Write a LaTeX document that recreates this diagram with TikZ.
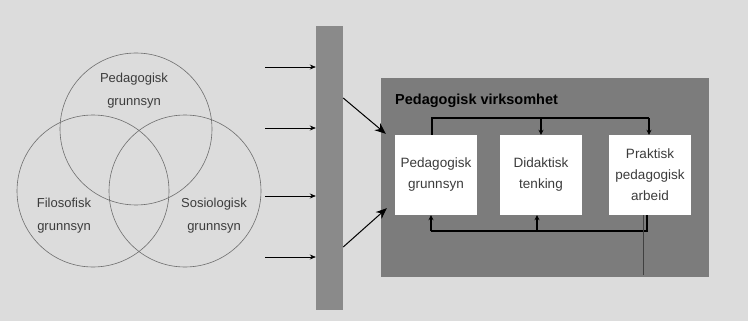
\documentclass[tikz,border=0pt]{standalone}
\usepackage{fontspec}
\setmainfont{Liberation Sans}
\usetikzlibrary{arrows.meta}
\definecolor{bg}{HTML}{DCDCDC}
\definecolor{bargray}{HTML}{8A8A8A}
\definecolor{boxgray}{HTML}{7C7C7C}
\definecolor{txt}{HTML}{3C3C3C}
\definecolor{circ}{HTML}{6E6E6E}
\begin{document}
\begin{tikzpicture}[x=1pt,y=-1pt,
  venn/.style={circle, draw=circ, line width=0.6pt, minimum size=152pt, inner sep=0pt},
  lbl/.style={font=\fontsize{13}{23}\selectfont, text=txt, align=center, inner sep=0pt},
  whitebox/.style={draw=none, fill=white, minimum width=82pt, minimum height=80pt, inner sep=0pt, font=\fontsize{13.5}{21}\selectfont, text=txt, align=center},
  inarrow/.style={-{Stealth[length=6pt,width=5pt]}, line width=0.7pt, black},
  bigarrow/.style={-{Stealth[length=11pt,width=9pt]}, line width=1pt, black},
  fb/.style={line width=1.1pt, black},
  fbarrow/.style={-{Stealth[length=5pt,width=5pt]}, line width=1.1pt, black}
]
\fill[bg] (0,0) rectangle (748,321);
\useasboundingbox (0,0) rectangle (748,321);

% Venn diagram
\node[venn] (cp) at (136,129) {};
\node[venn] (cf) at (93,191) {};
\node[venn] (cs) at (185,191) {};
\node[lbl] (lp) at (134,91) {Pedagogisk\\grunnsyn};
\node[lbl] (lf) at (64,216) {Filosofisk\\grunnsyn};
\node[lbl] (ls) at (214,216) {Sosiologisk\\grunnsyn};

% bar
\node[fill=bargray, minimum width=27pt, minimum height=284pt, inner sep=0pt] (bar) at (329.5,168) {};

% incoming arrows
\coordinate (a1) at (265,67);
\coordinate (a2) at (265,128);
\coordinate (a3) at (265,196);
\coordinate (a4) at (265,257);
\foreach \a in {a1,a2,a3,a4}{
  \draw[inarrow] (\a) -- (\a -| bar.west);
}

% activity box
\node[fill=boxgray, minimum width=328pt, minimum height=199pt, inner sep=0pt] (act) at (545,177.5) {};
\node[anchor=west, font=\bfseries\fontsize{14.5}{16}\selectfont, inner sep=0pt] (title) at (395,101) {Pedagogisk virksomhet};

\node[whitebox] (b1) at (436,175) {Pedagogisk\\grunnsyn};
\node[whitebox] (b2) at (541,175) {Didaktisk\\tenking};
\node[whitebox] (b3) at (650,175) {Praktisk\\pedagogisk\\arbeid};

% diagonal arrows
\coordinate (d1s) at (bar.east |- 0,98);
\coordinate (d2s) at (bar.east |- 0,247);
\coordinate (d1e) at ([shift={(-9pt,1pt)}]b1.north west);
\coordinate (d2e) at ([shift={(-8pt,7pt)}]b1.south west);
\draw[bigarrow] (d1s) -- (d1e);
\draw[bigarrow] (d2s) -- (d2e);

% top feedback
\coordinate (topline) at (0,118);
\coordinate (b1n) at ([xshift=-4pt]b1.north);
\coordinate (b3n) at ([xshift=-1pt]b3.north);
\draw[fb] (b1n) |- (b3n |- topline);
\draw[fbarrow] (b3n |- topline) -- (b3n);
\draw[fbarrow] (b2.north |- topline) -- (b2.north);

% bottom feedback
\coordinate (botline) at (0,231);
\coordinate (b1s) at ([xshift=-5pt]b1.south);
\coordinate (b2s) at ([xshift=-4pt]b2.south);
\coordinate (b3s) at ([xshift=-3pt]b3.south);
\draw[fb] (b3s) |- (b1s |- botline);
\draw[fbarrow] (b1s |- botline) -- (b1s);
\draw[fbarrow] (b2s |- botline) -- (b2s);
\draw[line width=0.5pt, black!75] ([xshift=-7pt]b3.south) -- ++(0,60);
\end{tikzpicture}
\end{document}
